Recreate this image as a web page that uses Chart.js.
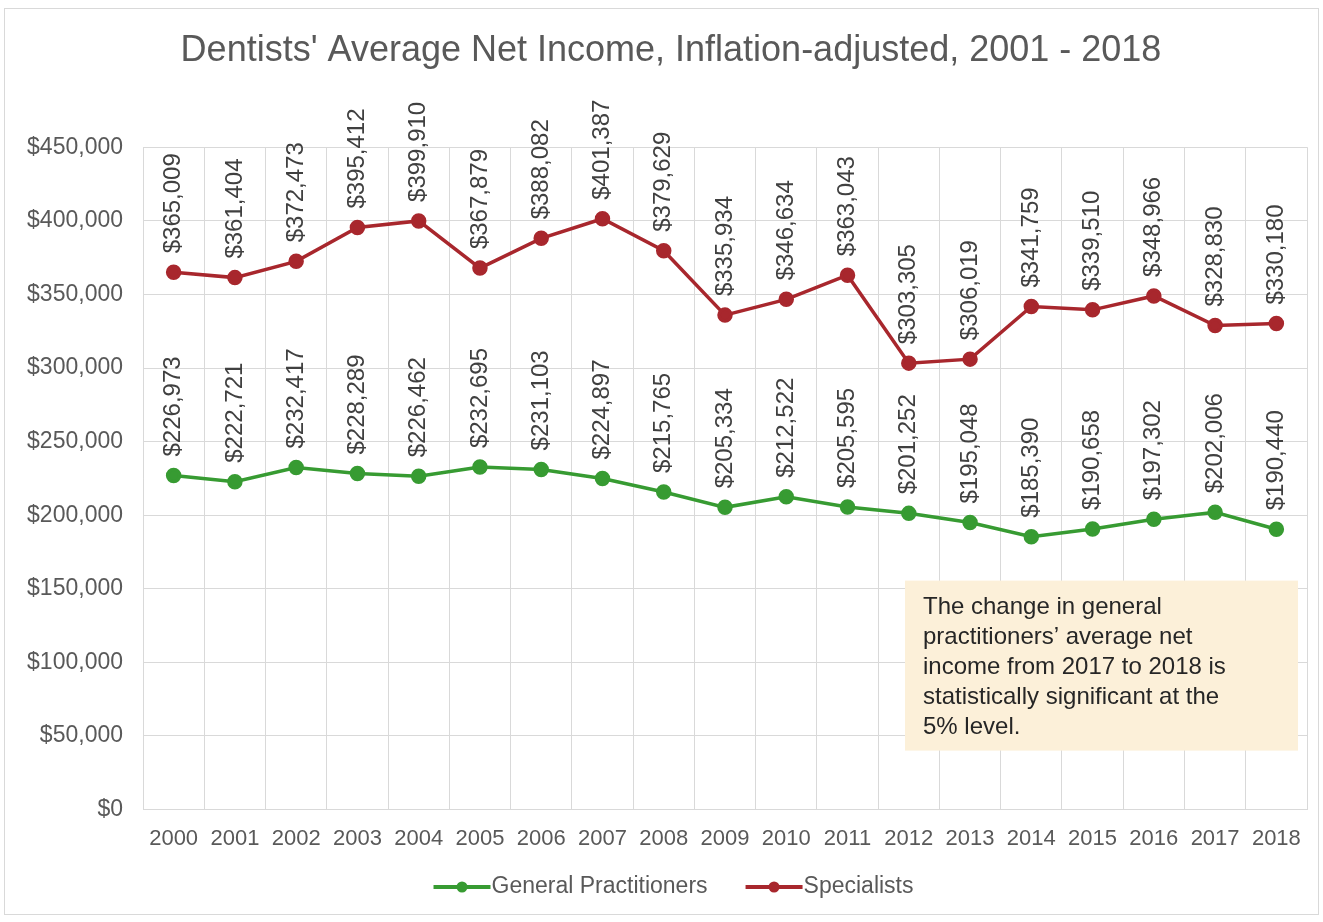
<!DOCTYPE html>
<html>
<head>
<meta charset="utf-8">
<title>Dentists' Average Net Income</title>
<script src="https://cdn.jsdelivr.net/npm/chart.js@4.4.1/dist/chart.umd.min.js"></script>
<style>
    body { margin: 0; background: #ffffff; }
    #frame {
        position: absolute;
        left: 4px;
        top: 8px;
        width: 1313px;
        height: 905px;
        border: 1px solid #d9d9d9;
        background: #ffffff;
    }
    #myLineChart { display: block; }
</style>
</head>
<body>
<div id="frame">
    <canvas id="myLineChart" width="1313" height="905"></canvas>
</div>
<script>
// chart data
var years = ["2000", "2001", "2002", "2003", "2004", "2005", "2006", "2007", "2008", "2009",
    "2010", "2011", "2012", "2013", "2014", "2015", "2016", "2017", "2018"];
var generalPractitioners = [226973, 222721, 232417, 228289, 226462, 232695, 231103, 224897, 215765, 205334,
    212522, 205595, 201252, 195048, 185390, 190658, 197302, 202006, 190440];
var specialists = [365009, 361404, 372473, 395412, 399910, 367879, 388082, 401387, 379629, 335934,
    346634, 363043, 303305, 306019, 341759, 339510, 348966, 328830, 330180];
var noteLines = [
    "The change in general",
    "practitioners\u2019 average net",
    "income from 2017 to 2018 is",
    "statistically significant at the",
    "5% level."
];

var greenColor = "#379b32";
var redColor = "#a8272d";
var textColor = "#595959";
var gridColor = "#d9d9d9";
var fontFamily = "'Liberation Sans', Arial, sans-serif";

function money(v) {
    return "$" + v.toLocaleString("en-US");
}

// legend marker: short line with a dot in the middle
function drawMarker(ctx, x, y, color) {
    ctx.strokeStyle = color;
    ctx.lineWidth = 4;
    ctx.beginPath();
    ctx.moveTo(x, y);
    ctx.lineTo(x + 57, y);
    ctx.stroke();
    ctx.fillStyle = color;
    ctx.beginPath();
    ctx.arc(x + 28.5, y, 5.5, 0, Math.PI * 2);
    ctx.fill();
}

// rotated value labels above each point
var valueLabels = {
    id: "valueLabels",
    afterDatasetsDraw: function (chart) {
        var ctx = chart.ctx;
        ctx.save();
        ctx.font = "24px " + fontFamily;
        ctx.fillStyle = "#404040";
        ctx.textAlign = "left";
        ctx.textBaseline = "middle";
        chart.data.datasets.forEach(function (ds, i) {
            var meta = chart.getDatasetMeta(i);
            meta.data.forEach(function (pt, j) {
                ctx.save();
                ctx.translate(pt.x, pt.y - 19);
                ctx.rotate(-Math.PI / 2);
                ctx.fillText(money(ds.data[j]), 0, 0);
                ctx.restore();
            });
        });
        ctx.restore();
    }
};

// text box in the lower right corner
var noteBox = {
    id: "noteBox",
    afterDraw: function (chart) {
        var ctx = chart.ctx;
        var area = chart.chartArea;
        var x = area.right - 402;
        var y = area.bottom - 229;
        ctx.save();
        ctx.fillStyle = "#fcf0d9";
        ctx.fillRect(x, y, 393, 170);
        ctx.fillStyle = "#262626";
        ctx.font = "24px " + fontFamily;
        ctx.textAlign = "left";
        ctx.textBaseline = "alphabetic";
        for (var i = 0; i < noteLines.length; i++) {
            ctx.fillText(noteLines[i], x + 18, y + 33 + i * 30);
        }
        ctx.restore();
    }
};

// legend drawn under the axis
var bottomLegend = {
    id: "bottomLegend",
    afterDraw: function (chart) {
        var ctx = chart.ctx;
        var ds = chart.data.datasets;
        var gap = 38;
        ctx.save();
        ctx.font = "23px " + fontFamily;
        ctx.textBaseline = "middle";
        ctx.textAlign = "left";
        var total = 0;
        ds.forEach(function (d, i) {
            total += 58 + ctx.measureText(d.label).width;
            if (i > 0) total += gap;
        });
        var x = chart.width / 2 + 12 - total / 2;
        var y = chart.height - 27;
        ds.forEach(function (d) {
            drawMarker(ctx, x, y, d.borderColor);
            x += 58;
            ctx.fillStyle = textColor;
            ctx.fillText(d.label, x, y);
            x += ctx.measureText(d.label).width + gap;
        });
        ctx.restore();
    }
};

// nudge the title a little to the right, like the original
var titleShift = {
    id: "titleShift",
    afterLayout: function (chart) {
        if (chart.titleBlock) {
            chart.titleBlock.left += 30;
        }
    }
};

var lineData = {
    labels: years,
    datasets: [{
        label: "General Practitioners",
        data: generalPractitioners,
        borderColor: greenColor,
        backgroundColor: greenColor,
        pointBackgroundColor: greenColor,
        pointBorderColor: greenColor,
        borderWidth: 3.5,
        pointRadius: 6,
        fill: false,
        lineTension: 0
    }, {
        label: "Specialists",
        data: specialists,
        borderColor: redColor,
        backgroundColor: redColor,
        pointBackgroundColor: redColor,
        pointBorderColor: redColor,
        borderWidth: 3.5,
        pointRadius: 6,
        fill: false,
        lineTension: 0
    }]
};

var lineOptions = {
    responsive: false,
    animation: false,
    layout: {
        padding: { left: 0, right: 11, top: 0, bottom: 46 }
    },
    plugins: {
        title: {
            display: true,
            text: "Dentists' Average Net Income, Inflation-adjusted, 2001 - 2018",
            color: textColor,
            font: { family: fontFamily, size: 36, weight: "normal" },
            padding: { top: 20, bottom: 75 }
        },
        legend: { display: false },
        tooltip: { enabled: false }
    },
    scales: {
        x: {
            offset: true,
            grid: { offset: true, color: gridColor, drawTicks: false },
            border: { color: gridColor },
            ticks: {
                color: textColor,
                font: { family: fontFamily, size: 22 },
                padding: 16,
                maxRotation: 0,
                autoSkip: false
            }
        },
        y: {
            min: 0,
            max: 450000,
            grid: { color: gridColor, drawTicks: false },
            border: { display: false },
            afterFit: function (scale) { scale.width = 138; },
            ticks: {
                stepSize: 50000,
                color: textColor,
                font: { family: fontFamily, size: 23 },
                padding: 20,
                callback: function (value) { return money(value); }
            }
        }
    }
};

var myLineChart = new Chart(document.getElementById("myLineChart"), {
    type: "line",
    data: lineData,
    options: lineOptions,
    plugins: [valueLabels, noteBox, bottomLegend, titleShift]
});
</script>
</body>
</html>
